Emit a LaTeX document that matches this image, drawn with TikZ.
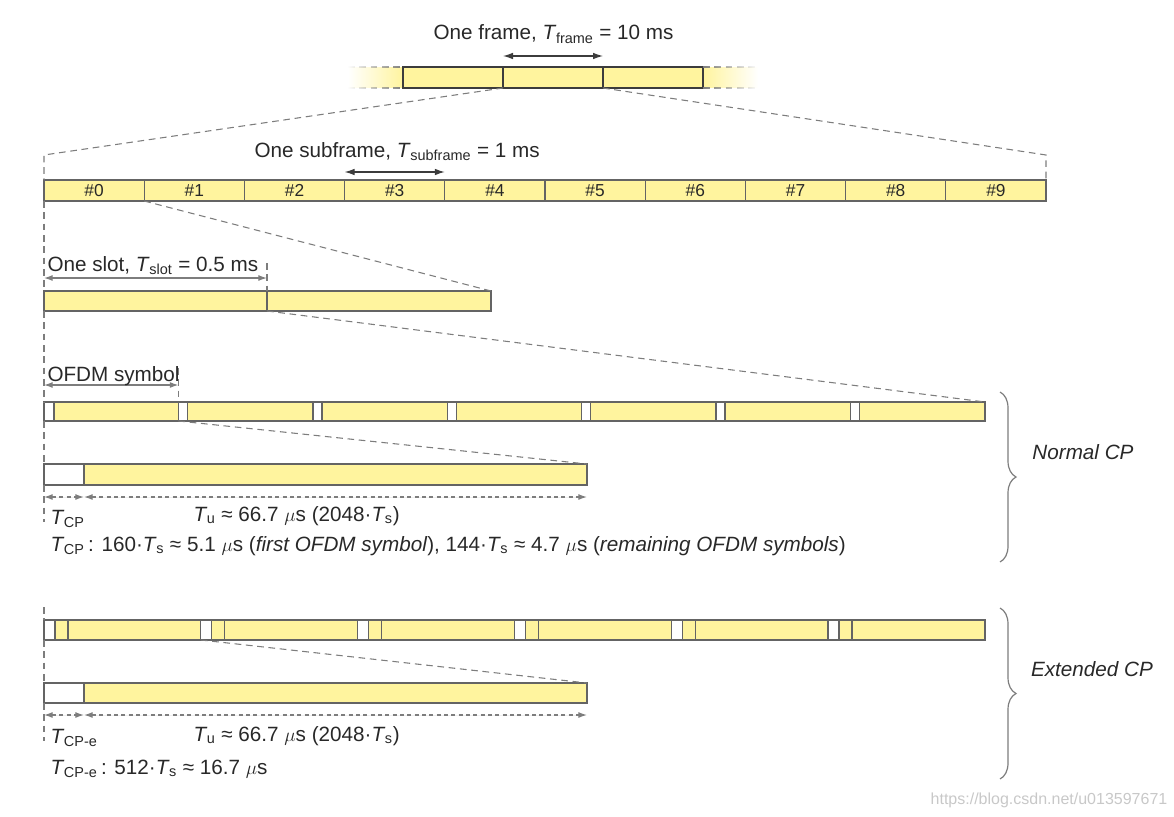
\documentclass[tikz,border=0pt]{standalone}
\usepackage{fontspec}
\setmainfont{Liberation Sans}
\usetikzlibrary{arrows.meta,decorations.pathreplacing,fadings}

\definecolor{boxyellow}{RGB}{255,244,158}
\definecolor{edgegray}{RGB}{100,100,100}
\definecolor{framegray}{RGB}{60,60,60}
\definecolor{dashgray}{RGB}{125,125,125}
\definecolor{textgray}{RGB}{40,40,40}
\definecolor{markgray}{RGB}{200,200,200}

\newcommand{\Tsub}[1]{\textit{T}\kern-0.02em\textsubscript{#1}}

\tikzfading[name=fadeleft, left color=transparent!100, right color=transparent!0]
\tikzfading[name=faderight, left color=transparent!0, right color=transparent!100]

\tikzset{every picture/.style={line width=0.75pt}}
\tikzset{
  boxw/.style={minimum width=(#1)*0.75pt},
  boxh/.style={minimum height=(#1)*0.75pt},
  cell/.style={draw=edgegray, fill=boxyellow, line width=1pt, anchor=north west,
    inner sep=0pt, outer sep=0pt, font=\fontsize{13}{15}\selectfont, text=textgray},
  cpcell/.style={cell, fill=white},
  framecell/.style={cell, draw=framegray, line width=1.1pt, boxh=21},
  zoomline/.style={draw=dashgray, dash pattern=on 5pt off 3.5pt, line width=0.8pt},
  dimarrow/.style={draw=framegray, line width=0.9pt,
    {Latex[length=7.5pt,width=5pt]}-{Latex[length=7.5pt,width=5pt]}},
  slotarrow/.style={draw=dashgray, fill=dashgray, line width=0.9pt,
    {Latex[length=6.5pt,width=4.5pt]}-{Latex[length=6.5pt,width=4.5pt]}},
  dimdash/.style={slotarrow, dash pattern=on 3pt off 2.5pt},
  lbl/.style={font=\fontsize{15.5}{18}\selectfont, text=textgray, inner sep=0pt, anchor=base west},
  cplbl/.style={lbl, font=\fontsize{15.5}{18}\selectfont\itshape, anchor=center},
  cpbrace/.style={draw=dashgray, line width=0.9pt, decorate, decoration={brace, amplitude=12pt}},
  watermark/.style={font=\fontsize{12}{14}\selectfont, text=markgray, inner sep=0pt}
}

\begin{document}
\begin{tikzpicture}[x=0.75pt,y=0.75pt,yscale=-1,xscale=1]
\useasboundingbox (0,0) rectangle (1174,817);

%Frame row
\fill[boxyellow, path fading=fadeleft] (348,67) rectangle (403,88);
\fill[boxyellow, path fading=faderight] (703,67) rectangle (758,88);
\foreach \i/\x in {1/403,2/503,3/603}
  \node[framecell, boxw=100] (fr\i) at (\x,67) {};
\draw[zoomline, path fading=fadeleft] (348,67) -- (fr1.north west) (348,88) -- (fr1.south west);
\draw[zoomline, path fading=faderight] (fr3.north east) -- (758,67) (fr3.south east) -- (758,88);
\draw[dimarrow] ([yshift=-8.25pt]fr2.north west) -- ([yshift=-8.25pt]fr2.north east);
% Text Node
\node[lbl] (frametxt) at (433,40) {One frame, \Tsub{frame} = 10 ms};

%Subframe row
\coordinate (kinkl) at (44,155);
\coordinate (kinkr) at (1046,155);
\foreach \i in {0,...,9}
  \node[cell, boxw=100.2, boxh=21] (sf\i) at ({44+100.2*\i},180) {\#\i};
\draw[zoomline] (fr2.south west) -- (kinkl) -- (sf0.north west);
\draw[zoomline] (fr3.south west) -- (kinkr) -- (sf9.north east);
\draw[dimarrow] ([yshift=-6pt]sf3.north west) -- ([yshift=-6pt]sf3.north east);
% Text Node
\node[lbl] (subtxt) at (254,157) {One subframe, \Tsub{subframe} = 1 ms};

%Slot row
\node[cell, boxw=223, boxh=20] (sl0) at (44,291) {};
\node[cell, boxw=224, boxh=20] (sl1) at (267,291) {};
\draw[zoomline] (sf1.south west) -- (sl1.north east);
\draw[zoomline] (sf0.south west) -- (sl0.north west);
\draw[slotarrow] ([yshift=-9.75pt]sl0.north west) -- ([yshift=-9.75pt]sl0.north east);
\draw[zoomline] ([yshift=-21pt]sl0.north east) -- (sl0.north east);
% Text Node
\node[lbl] (slottxt) at (47,271) {One slot, \Tsub{slot} = 0.5 ms};

%Normal CP symbols
\foreach \i in {0,...,6}{
  \pgfmathsetmacro{\xs}{44+134.43*\i}
  \pgfmathsetmacro{\wc}{ifthenelse(\i==0,10,9)}
  \node[cpcell, boxw=\wc, boxh=19] (ncp\i) at (\xs,402) {};
  \node[cell, boxw=134.43-\wc, boxh=19] (nsy\i) at (ncp\i.north east) {};
}
\draw[zoomline] (sl0.south east) -- (nsy6.north east);
\draw[zoomline] (sl0.south west) -- (ncp0.north west);
\draw[slotarrow] ([yshift=-12.75pt]ncp0.north west) -- ([yshift=-12.75pt]ncp1.north west);
\draw[zoomline] ([yshift=-25.5pt]ncp1.north west) -- (ncp1.north west);
% Text Node
\node[lbl] (symtxt) at (47,381) {OFDM symbol};

%Normal CP detail
\node[cpcell, boxw=40, boxh=21] (ncpd) at (44,464) {};
\node[cell, boxw=503, boxh=21] (nud) at (ncpd.north east) {};
\coordinate (nend) at (44,522);
\draw[zoomline] (ncp1.south west) -- (nud.north east);
\draw[zoomline] (ncp0.south west) -- (ncpd.north west);
\draw[zoomline] (ncpd.south west) -- (nend);
\draw[dimdash] ([yshift=9pt]ncpd.south west) -- ([yshift=9pt]ncpd.south east);
\draw[dimdash] ([yshift=9pt]nud.south west) -- ([yshift=9pt]nud.south east);
% Text Node
\node[lbl] (tcpn) at (50,524) {\Tsub{CP}};
\node[lbl] (tun) at (193,521) {\Tsub{u} ≈ 66.7 $\mu$s (2048·\Tsub{s})};
\node[lbl] (cpnote) at (50,551) {\Tsub{CP}\,: 160·\Tsub{s} ≈ 5.1 $\mu$s (\textit{first OFDM symbol}), 144·\Tsub{s} ≈ 4.7 $\mu$s (\textit{remaining OFDM symbols})};

%Extended CP symbols
\foreach \i in {0,...,5}{
  \pgfmathsetmacro{\xs}{44+156.83*\i}
  \node[cpcell, boxw=11, boxh=20] (ecp\i) at (\xs,620) {};
  \node[cell, boxw=13, boxh=20] (ecc\i) at (ecp\i.north east) {};
  \node[cell, boxw=132.83, boxh=20] (esy\i) at (ecc\i.north east) {};
}

%Extended CP detail
\node[cpcell, boxw=40, boxh=20] (ecpd) at (44,683) {};
\node[cell, boxw=503, boxh=20] (eud) at (ecpd.north east) {};
\coordinate (etop) at (44,607);
\coordinate (eend) at (44,741);
\draw[zoomline] (ecp1.south west) -- (eud.north east);
\draw[zoomline] (etop) -- (ecp0.north west);
\draw[zoomline] (ecp0.south west) -- (ecpd.north west);
\draw[zoomline] (ecpd.south west) -- (eend);
\draw[dimdash] ([yshift=9pt]ecpd.south west) -- ([yshift=9pt]ecpd.south east);
\draw[dimdash] ([yshift=9pt]eud.south west) -- ([yshift=9pt]eud.south east);
% Text Node
\node[lbl] (tcpe) at (50,743) {\Tsub{CP-e}};
\node[lbl] (tue) at (193,741) {\Tsub{u} ≈ 66.7 $\mu$s (2048·\Tsub{s})};
\node[lbl] (cpenote) at (50,774) {\Tsub{CP-e}\,: 512·\Tsub{s} ≈ 16.7 $\mu$s};

%Braces
\coordinate (nbt) at (1000,392);
\coordinate (nbb) at (1000,562);
\coordinate (ebt) at (1000,608);
\coordinate (ebb) at (1000,779);
\draw[cpbrace] (nbt) -- (nbb);
\draw[cpbrace] (ebt) -- (ebb);
% Text Node
\node[cplbl] (normtxt) at (1083,452) {Normal CP};
\node[cplbl] (exttxt) at (1092,669) {Extended CP};

\node[watermark] (wm) at (1049,800) {https://blog.csdn.net/u013597671};
\end{tikzpicture}
\end{document}
